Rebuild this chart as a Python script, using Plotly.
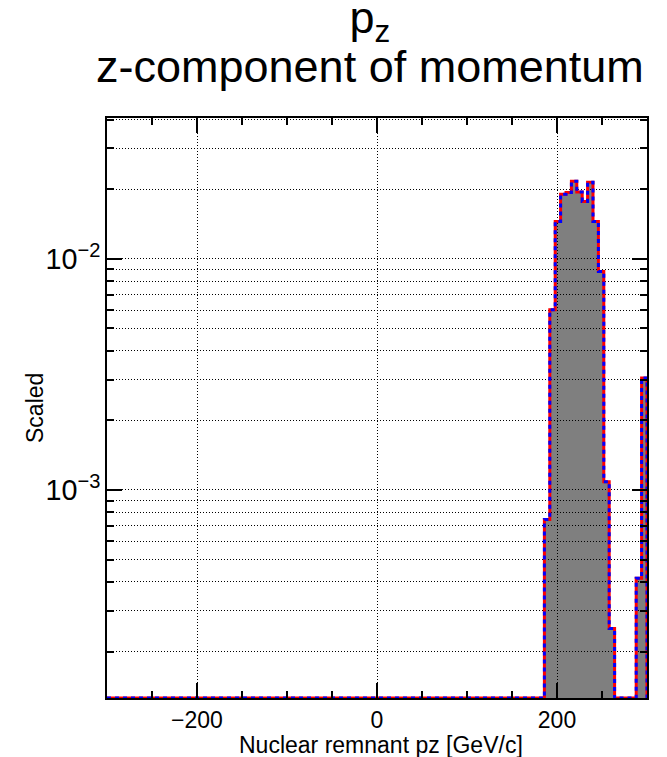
import numpy as np
import plotly.graph_objects as go

# Histogram binning: 100 bins of 6 GeV/c between -300 and 300 GeV/c
x_lo, x_hi, n_bins = -300.0, 300.0, 100

# Lower edges [GeV/c] and contents of the populated bins; all other bins are empty
filled_lo = [186, 192, 198, 204, 210, 216, 222, 228, 234, 240, 246, 252, 258, 288, 294]
filled_val = [7.46e-4, 6.02e-3, 1.450e-2, 1.902e-2, 1.932e-2, 2.161e-2, 1.944e-2,
              1.770e-2, 2.140e-2, 1.450e-2, 8.81e-3, 1.086e-3, 2.52e-4, 4.15e-4, 3.05e-3]

y_top = 0.0406
x_major = [-200, 0, 200]
title_line1 = "p<sub>z</sub>"
title_line2 = "z-component of momentum"
x_title = "Nuclear remnant pz [GeV/c]"
y_title = "Scaled"

FONT = "Liberation Sans, Arial, Helvetica, sans-serif"
W, H = 667, 757
L, R, T, B = 107, 20, 118, 59

# ---- build the full histogram ----
width = (x_hi - x_lo) / n_bins
edges = np.linspace(x_lo, x_hi, n_bins + 1)
content = np.zeros(n_bins)
idx = np.round((np.array(filled_lo) - x_lo) / width).astype(int)
content[idx] = filled_val

# log-scale floor: half of the smallest non-empty bin; empty bins sit on it
y_floor = 0.5 * content[content > 0].min()
shown = np.where(content > 0, content, y_floor)

xs, ys = [x_lo], [y_floor]
for i in range(n_bins):
    xs += [edges[i], edges[i + 1]]
    ys += [shown[i], shown[i]]
xs.append(x_hi)
ys.append(y_floor)


def paper_x(px):
    return (px - L) / (W - L - R)


def paper_y(py):
    return (H - B - py) / (H - T - B)


fig = go.Figure()
# stippled grey fill, translucent so the dotted grid stays visible inside the bars
fig.add_trace(go.Scatter(
    x=xs, y=ys, mode="lines", fill="toself",
    fillpattern=dict(shape=".", fgcolor="black", bgcolor="rgba(0,0,0,0.36)",
                     size=2, solidity=0.5),
    line=dict(color="#ff0000", width=3), hoverinfo="skip", showlegend=False))
fig.add_trace(go.Scatter(
    x=xs, y=ys, mode="lines",
    line=dict(color="#0000ff", width=3, dash="4px,4px"),
    hoverinfo="skip", showlegend=False))

axis_common = dict(
    ticks="inside", tickwidth=2, tickcolor="black", ticklen=15,
    showline=True, linecolor="black", linewidth=2, mirror="allticks",
    showgrid=True, gridcolor="black", gridwidth=1, griddash="1px,2px",
    zeroline=False, tickfont=dict(family=FONT, size=23, color="black"),
)

fig.update_xaxes(
    range=[x_lo, x_hi], tickmode="array", tickvals=x_major,
    minor=dict(dtick=50, tick0=0, ticks="inside", ticklen=7, tickwidth=2,
               tickcolor="black", showgrid=False),
    **axis_common)

fig.update_yaxes(
    type="log", range=[np.log10(y_floor), np.log10(y_top)], dtick=1,
    exponentformat="power", showexponent="all",
    minor=dict(dtick="D1", ticks="inside", ticklen=7, tickwidth=2, tickcolor="black",
               showgrid=True, gridcolor="black", gridwidth=1, griddash="1px,2px"),
    **axis_common)

# two-line title: line spacing follows the base font size (1.3 em), glyphs use 45 px
title_text = ("<span style='font-size:45px'>" + title_line1 + "</span><br>"
              "<span style='font-size:45px'>" + title_line2 + "</span>")
fig.add_annotation(text=title_text, x=paper_x(370), y=paper_y(42), xref="paper", yref="paper",
                   xanchor="center", yanchor="middle", showarrow=False, align="center",
                   font=dict(family=FONT, size=38, color="black"))
fig.add_annotation(text=x_title, x=paper_x(381), y=paper_y(745), xref="paper", yref="paper",
                   xanchor="center", yanchor="middle", showarrow=False,
                   font=dict(family=FONT, size=23, color="black"))
fig.add_annotation(text=y_title, x=paper_x(35), y=paper_y(408), xref="paper", yref="paper",
                   xanchor="center", yanchor="middle", showarrow=False, textangle=-90,
                   font=dict(family=FONT, size=23, color="black"))

fig.update_layout(
    width=W, height=H, margin=dict(l=L, r=R, t=T, b=B),
    paper_bgcolor="white", plot_bgcolor="white",
    showlegend=False,
)

fig.write_html("out.html")
